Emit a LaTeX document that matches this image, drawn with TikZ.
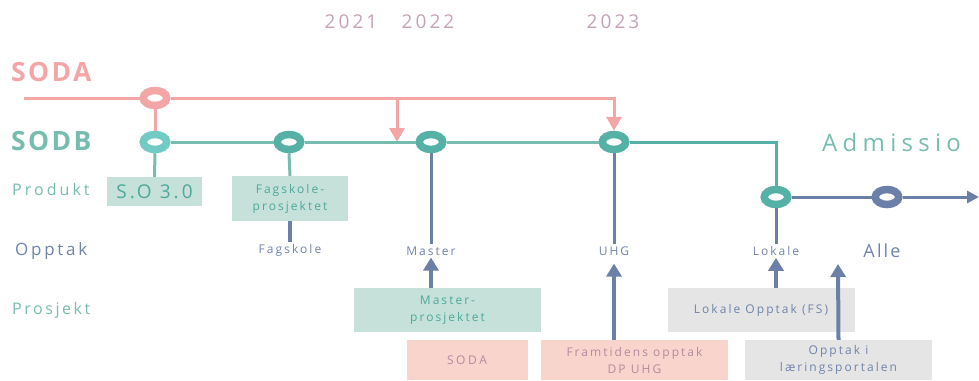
\documentclass[tikz,border=0pt]{standalone}
\usepackage{fontspec}
\setmainfont{Open Sans}
\usetikzlibrary{shapes.geometric,arrows.meta}
\definecolor{pk}{HTML}{F4A6A6}
\definecolor{tl}{HTML}{77BDAF}
\definecolor{tc}{HTML}{55B1A6}
\definecolor{tcl}{HTML}{6FCBC4}
\definecolor{bg}{HTML}{6B7FA8}
\definecolor{bgt}{HTML}{7084AC}
\definecolor{tbox}{HTML}{C5E1D9}
\definecolor{ttext}{HTML}{4EA89C}
\definecolor{gbox}{HTML}{E5E5E5}
\definecolor{pbox}{HTML}{F9D4CD}
\definecolor{ptext}{HTML}{B38BA0}
\definecolor{yr}{HTML}{C4A3B8}
\newcommand{\lsp}[1]{\addfontfeature{LetterSpace=#1}}
\begin{document}
\begin{tikzpicture}[x=1pt,y=-1pt,
  ring/.style={ellipse, draw=#1, line width=7.5pt, fill=white, minimum width=23.5pt, minimum height=15pt, inner sep=0pt},
  boxn/.style={rectangle, fill=#1, inner sep=0pt, align=center, minimum width=187pt, minimum height=44pt},
  lbl/.style={inner sep=2pt, text=bgt, font=\fontsize{12}{14}\selectfont\lsp{17}},
  pinkl/.style={draw=pk, line width=3pt},
  teall/.style={draw=tl, line width=3pt},
  bluel/.style={draw=bg, line width=3pt},
  barrow/.style={draw=bg, line width=4pt, -{Triangle[width=15pt,length=13pt]}},
  parrow/.style={draw=pk, line width=3pt, -{Triangle[width=15pt,length=14pt]}},
  btext/.style={font=\fontsize{12}{17}\selectfont\lsp{17}},
  title/.style={anchor=west, inner sep=0pt, text=#1, font=\fontsize{26.5}{28}\selectfont\bfseries\lsp{9}},
]
\useasboundingbox (0,0) rectangle (979,380);
% years
\node[text=yr, font=\fontsize{19}{22}\selectfont\lsp{16}] (y21) at (351,22) {2021};
\node[text=yr, font=\fontsize{19}{22}\selectfont\lsp{16}] (y22) at (428,22) {2022};
\node[text=yr, font=\fontsize{19}{22}\selectfont\lsp{16}] (y23) at (613,22) {2023};
% row titles
\node[title=pk] (soda) at (11,72) {SODA};
\node[title=tl] (sodb) at (11,141) {SODB};
\node[anchor=west, inner sep=0pt, text=tl, font=\fontsize{16}{18}\selectfont\lsp{19}] (prod) at (12,189) {Produkt};
\node[anchor=west, inner sep=0pt, text=bgt, font=\fontsize{17}{19}\selectfont\lsp{16}] (oppt) at (15,251) {Opptak};
\node[anchor=west, inner sep=0pt, text=tl, font=\fontsize{16}{18}\selectfont\lsp{16}] (pros) at (12,310) {Prosjekt};
\node[anchor=west, inner sep=0pt, text=tl, font=\fontsize{24}{28}\selectfont\lsp{22}] (adm) at (822,142) {Admissio};
% circles
\node[ring=pk] (c0) at (155,98) {};
\node[ring=tcl] (c1) at (155,142) {};
\node[ring=tc] (c2) at (289,142) {};
\node[ring=tc] (c3) at (431,142) {};
\node[ring=tc] (c4) at (614,142) {};
\node[ring=tc] (c5) at (776,197) {};
\node[ring=bg] (c6) at (887,197) {};
\coordinate (sodaS) at (24,98);
\coordinate (k1) at (397,98);
\coordinate (k1t) at (397,142);
\coordinate (k2) at (614,98);
\coordinate (k3) at (776,142);
\coordinate (endA) at (979,197);
\coordinate (olt) at (838,264);
% boxes
\node[boxn=tbox, minimum width=95pt, minimum height=29pt, text=ttext, font=\fontsize{19}{22}\selectfont\lsp{16}] (so) at (154.5,191.5) {S.O 3.0};
\node[boxn=tbox, minimum width=116pt, minimum height=45pt, text=ttext, btext] (fag) at (290,198.5) {Fagskole-\\prosjektet};
\node[boxn=tbox, text=ttext, btext] (mp) at (447.5,310) {Master-\\prosjektet};
\node[boxn=gbox, text=bgt, btext] (lo) at (761,310) {Lokale Opptak (FS)};
\node[boxn=pbox, minimum width=121pt, minimum height=40pt, text=ptext, font=\fontsize{12}{17}\selectfont\lsp{22}] (sb) at (467,360) {SODA};
\node[boxn=pbox, minimum height=40pt, text=ptext, btext] (fr) at (634.5,360) {Framtidens opptak\\DP UHG};
\node[boxn=gbox, minimum height=40pt, text=bgt, btext] (ol) at (838.5,360) {Opptak i\\læringsportalen};
% opptak labels
\node[lbl] (fagl) at (290,250) {Fagskole};
\node[lbl] (mas) at (431,251) {Master};
\node[lbl] (uhg) at (614,251) {UHG};
\node[lbl] (lok) at (776,251) {Lokale};
\node[inner sep=2pt, text=bgt, font=\fontsize{18}{20}\selectfont\lsp{12}] (alle) at (882,251) {Alle};
% connectors
\draw[pinkl] (sodaS) -- (c0.west);
\draw[pinkl] (c0.south) -- (c1.north);
\draw[parrow] (c0.east) -- (k2) -- (c4.north);
\draw[parrow] (k1) -- (k1t);
\draw[teall] (c1.east) -- (c2.west);
\draw[teall] (c2.east) -- (c3.west);
\draw[teall] (c3.east) -- (c4.west);
\draw[draw=tc, line width=3pt] (c4.east) -- (k3) -- (c5.north);
\draw[bluel] (c5.east) -- (c6.west);
\draw[bluel, -{Triangle[width=12pt,length=12pt]}] (c6.east) -- (endA);
\draw[teall] (c1.south) -- (so.north);
\draw[teall] (c2.south) -- (fag.north);
\draw[bluel, line width=4pt] (fag.south) -- (fagl.north);
\draw[bluel] (c3.south) -- (mas.north);
\draw[bluel] (c4.south) -- (uhg.north);
\draw[bluel] (c5.south) -- (lok.north);
\draw[barrow] (mp.north -| mas) -- (mas.south);
\draw[barrow] (fr.north -| uhg) -- ([yshift=-6pt]uhg.south);
\draw[barrow] (lo.north -| lok) -- (lok.south);
\draw[barrow] (ol.north) -- (olt);
\end{tikzpicture}
\end{document}
